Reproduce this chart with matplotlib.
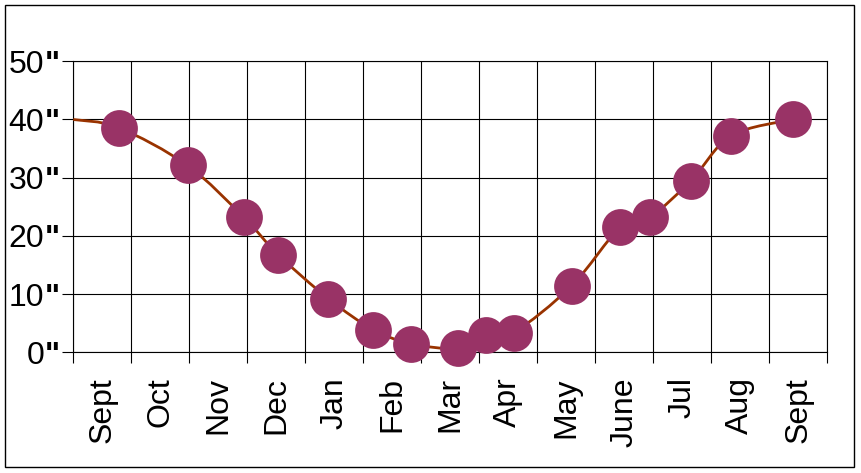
"""
Monthly snow depth chart: smoothed line through the readings, with round markers.
"""

import matplotlib.pyplot as plt
import numpy as np
from matplotlib.path import Path
from matplotlib.patches import PathPatch, Rectangle

plt.rcParams["font.family"] = ["Liberation Sans", "DejaVu Sans"]

months = ["Sept", "Oct", "Nov", "Dec", "Jan", "Feb", "Mar",
          "Apr", "May", "June", "Jul", "Aug", "Sept"]

# position in months since start of Sept, depth in inches
reading_pos = [0.78, 1.97, 2.94, 3.53, 4.40, 5.17, 5.82, 6.63,
               7.11, 7.59, 8.59, 9.43, 9.94, 10.65, 11.34, 12.40]
reading_depth = [38.6, 32.1, 23.2, 16.8, 9.2, 3.9, 1.5, 0.7,
                 3.0, 3.4, 11.4, 21.5, 23.2, 29.5, 37.2, 40.0]

# the line starts at the left edge without a marker
start_pos = 0.0
start_depth = 40.0

y_ticks = [0, 10, 20, 30, 40, 50]


def smooth_path(xs, ys):
    """Bezier path through the points, like the spreadsheet 'smoothed line'."""
    pts = np.column_stack([xs, ys])
    n = len(pts)
    verts = [pts[0]]
    codes = [Path.MOVETO]
    for i in range(n - 1):
        p_prev = pts[max(i - 1, 0)]
        p0 = pts[i]
        p1 = pts[i + 1]
        p_next = pts[min(i + 2, n - 1)]
        c1 = p0 + (p1 - p_prev) / 6.0
        c2 = p1 - (p_next - p0) / 6.0
        verts += [c1, c2, p1]
        codes += [Path.CURVE4] * 3
    return Path(verts, codes)


fig = plt.figure(figsize=(8.61, 4.73), dpi=100)
ax = fig.add_axes([0.0851, 0.2552, 0.8758, 0.6152])

line_x = [start_pos] + reading_pos
line_y = [start_depth] + reading_depth
ax.add_patch(PathPatch(smooth_path(line_x, line_y), fill=False,
                       edgecolor="#993300", linewidth=2.0, zorder=3))
ax.plot(reading_pos, reading_depth, linestyle="none", marker="o",
        markersize=26.5, markerfacecolor="#993366", markeredgewidth=0,
        zorder=4, clip_on=False)

ax.set_xlim(0, len(months))
ax.set_ylim(0, 50)

ax.set_xticks(np.arange(len(months) + 1))
ax.set_xticklabels([])
ax.set_xticks(np.arange(len(months)) + 0.5, minor=True)
ax.set_xticklabels(months, minor=True, rotation=90, va="top", fontsize=23)
ax.tick_params(axis="x", which="major", direction="out", length=8,
               width=0.8, color="black")
ax.tick_params(axis="x", which="minor", length=0, pad=18)

# digits as tick labels, the inch marks as bold quotes just after them
ax.set_yticks(y_ticks)
ax.set_yticklabels([str(v) for v in y_ticks], fontsize=23)
ax.tick_params(axis="y", direction="out", length=8, width=0.8,
               color="black", pad=13)
for v in y_ticks:
    ax.annotate('"', xy=(0, v), xycoords=("axes fraction", "data"),
                xytext=(-10, -2.5), textcoords="offset points",
                ha="right", va="center", fontsize=23, fontweight="bold")

ax.grid(True, which="major", color="black", linewidth=0.8)
ax.set_axisbelow(True)
for side in ax.spines.values():
    side.set_linewidth(0.8)

# outer frame round the whole chart
fig.patches.append(Rectangle((0.0058, 0.0127), 0.9861, 0.9767,
                             transform=fig.transFigure, fill=False,
                             edgecolor="black", linewidth=1.0))

plt.savefig("out.png", dpi=100)
